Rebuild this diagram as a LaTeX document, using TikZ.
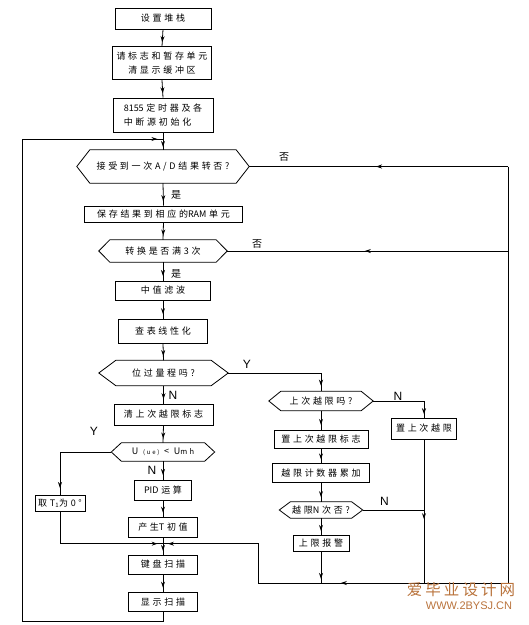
\documentclass[tikz,border=0pt]{standalone}
\usepackage{fontspec}
\usetikzlibrary{arrows.meta,decorations.markings}
\newfontfamily\cjk[LetterSpace=30]{Noto Sans CJK SC}
\newfontfamily\cjklbl{Noto Sans CJK SC}
\newfontfamily\wmcjk[LetterSpace=20]{Noto Sans CJK SC}
\newfontfamily\latn{Liberation Sans}
\newcommand\boxfont{\cjk\fontsize{9}{14}\selectfont}
\newcommand\tight[1]{{\cjklbl #1}\hspace{2.7pt}}
\definecolor{wm}{RGB}{185,115,60}
\newcommand\hexpath[2]{\draw[ln] (#1.west) -- ([xshift=#2pt]#1.north west) -- ([xshift=-#2pt]#1.north east) -- (#1.east) -- ([xshift=-#2pt]#1.south east) -- ([xshift=#2pt]#1.south west) -- cycle;}
\begin{document}
\begin{tikzpicture}[x=1pt,y=-1pt,
  ln/.style={line width=0.8pt, draw=black},
  box/.style={draw, line width=0.8pt, inner sep=0pt, font=\boxfont, align=center},
  hexn/.style={inner sep=0pt, font=\boxfont, align=center},
  cnlbl/.style={font=\cjklbl\fontsize{10}{10}\selectfont, inner sep=0pt},
  ynlbl/.style={font=\latn\fontsize{12}{12}\selectfont, inner sep=0pt},
  marr/.style={postaction={decorate}, decoration={markings, mark=at position #1 with {\arrow{Stealth[length=6pt,width=4pt]}}}}
]
\useasboundingbox (0,0) rectangle (529,625);

% main column
\node[box, minimum width=96pt, minimum height=21pt] (b1) at (163,18.5) {设置堆栈};
\node[box, minimum width=99pt, minimum height=33pt] (b2) at (162,63.3) {请标志和暂存单元\\清显示缓冲区};
\node[box, minimum width=100pt, minimum height=34pt, align=left] (b3) at (163,115) {\tight{8155}定时器及各\\中断源初始化};
\node[hexn, minimum width=172pt, minimum height=33pt] (h1) at (163,166.5) {接受到一次A/D结果转否?};
\hexpath{h1}{13}
\node[box, minimum width=158pt, minimum height=16pt] (b5) at (163.5,214) {保存结果到相应的\tight{RAM}单元};
\node[hexn, minimum width=128pt, minimum height=22pt] (h2) at (163,251) {转换是否满3次};
\hexpath{h2}{11}
\node[box, minimum width=95pt, minimum height=19pt] (mid) at (163,290.5) {中值滤波};
\node[box, minimum width=89pt, minimum height=24pt] (lin) at (163,331) {查表线性化};
\node[hexn, minimum width=129pt, minimum height=25pt] (h3) at (163.5,373) {位过量程吗?};
\hexpath{h3}{17}
\node[box, minimum width=99pt, minimum height=21pt] (clr) at (163.5,414.5) {清上次越限标志};
\node[hexn, minimum width=103pt, minimum height=18pt] (h5) at (163,452) {U {\fontsize{6}{6}\selectfont (ue)} < U{\fontsize{7.5}{7.5}\selectfont mh}};
\hexpath{h5}{10}
\node[box, minimum width=57pt, minimum height=20pt] (pid) at (163,490) {\tight{PID}运算};
\node[box, minimum width=69pt, minimum height=20pt] (gen) at (163,527) {产生\tight{T}初值};
\node[box, minimum width=69pt, minimum height=19pt] (key) at (163,564.5) {键盘扫描};
\node[box, minimum width=69pt, minimum height=19pt] (disp) at (163,602) {显示扫描};
\node[box, minimum width=50pt, minimum height=16pt] (t1) at (60,503) {取T\textsubscript{1}为0°};

% right branch
\node[hexn, minimum width=104pt, minimum height=19pt] (h4) at (321,401) {上次越限吗?};
\hexpath{h4}{12}
\node[box, minimum width=94pt, minimum height=18pt] (set2) at (321,439) {置上次越限标志};
\node[box, minimum width=65pt, minimum height=21pt] (set1) at (424,428.5) {置上次越限};
\node[box, minimum width=97pt, minimum height=19pt] (cnt) at (321,473) {越限计数器累加};
\node[hexn, minimum width=83pt, minimum height=16pt] (h6) at (321,510) {越限\tight{N}次否?};
\hexpath{h6}{11}
\node[box, minimum width=56pt, minimum height=16pt] (alarm) at (321,543.5) {上限报警};

% coordinates
\coordinate (Tj) at (163,139);
\coordinate (LT) at (22.6,139);
\coordinate (LL) at (22.6,621.8);
\coordinate (Rt) at (508,166.5);
\coordinate (R2) at (508,251);
\coordinate (Rb) at (508,583);
\coordinate (Mb) at (424,583);
\coordinate (Ab) at (321,583);
\coordinate (Lb) at (258.4,583);
\coordinate (Lj) at (258.4,543.7);
\coordinate (J) at (163,543.7);
\coordinate (Nj) at (424,510);

% main connectors
\draw[ln, marr=0.75] (b1.south) -- (b2.north);
\draw[ln, marr=0.75] (b2.south) -- (b3.north);
\draw[ln, marr=0.83] (b3.south) -- (h1.north);
\draw[ln] (disp.south) |- (LL) -- (LT);
\draw[ln, marr=0.96] (LT) -- (Tj);
\draw[ln, marr=0.8] (h1.south) -- (b5.north);
\draw[ln, marr=0.75] (b5.south) -- (h2.north);
\draw[ln, marr=0.75] (h2.south) -- (mid.north);
\draw[ln, marr=0.75] (mid.south) -- (lin.north);
\draw[ln, marr=0.75] (lin.south) -- (h3.north);
\draw[ln, marr=0.75] (h3.south) -- (clr.north);
\draw[ln, marr=0.75] (clr.south) -- (h5.north);
\draw[ln, marr=0.75] (h5.south) -- (pid.north);
\draw[ln, marr=0.75] (pid.south) -- (gen.north);
\draw[ln, marr=0.78] (gen.south) -- (key.north);
\draw[ln, marr=0.75] (key.south) -- (disp.north);
\draw[ln, marr=0.93] (h5.west) -| (t1.north);
\draw[ln, marr=0.96] (t1.south) |- (J);
\draw[ln, marr=0.963] (Lb) -- (Lj) -- (J);
\draw[ln, marr=0.67] (Rb) -- (Lb);
\draw[ln] (Rt) -- (Rb);
\draw[ln, marr=0.51] (Rt) -- (h1.east);
\draw[ln, marr=0.51] (R2) -- (h2.east);

% right connectors
\draw[ln, marr=0.95] (h3.east) -| (h4.north);
\draw[ln, marr=0.75] (h4.south) -- (set2.north);
\draw[ln, marr=0.95] (h4.east) -| (set1.north);
\draw[ln, marr=0.555] (set1.south) -- (Mb);
\draw[ln] (h6.east) -- (Nj);
\draw[ln, marr=0.75] (set2.south) -- (cnt.north);
\draw[ln, marr=0.75] (cnt.south) -- (h6.north);
\draw[ln, marr=0.75] (h6.south) -- (alarm.north);
\draw[ln, marr=0.87] (alarm.south) -- (Ab);

% labels
\node[cnlbl] (l1) at (284,157) {否};
\node[cnlbl] (l2) at (176,195) {是};
\node[cnlbl] (l3) at (257,244) {否};
\node[cnlbl] (l4) at (176,274) {是};
\node[ynlbl] (l5) at (247,364.5) {Y};
\node[ynlbl] (l6) at (173,395) {N};
\node[ynlbl] (l7) at (94,431) {Y};
\node[ynlbl] (l8) at (152,470) {N};
\node[ynlbl] (l9) at (398,396.5) {N};
\node[ynlbl] (l10) at (384.5,501) {N};

% watermark
\node[font=\wmcjk\fontsize{15.5}{15.5}\selectfont, text=wm, inner sep=0pt] (wm1) at (461,590) {爱毕业设计网};
\node[font=\latn\fontsize{11}{11}\selectfont, text=wm, inner sep=0pt] (wm2) at (469,605.5) {WWW.2BYSJ.CN};
\end{tikzpicture}
\end{document}
